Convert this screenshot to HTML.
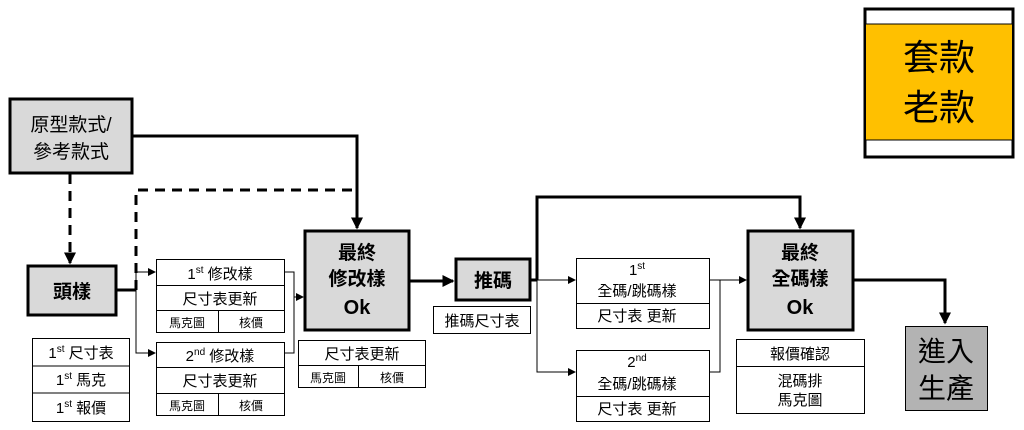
<!DOCTYPE html>
<html><head><meta charset="utf-8"><style>
body{margin:0;background:#fff;width:1024px;height:430px;overflow:hidden}
svg{display:block}
text{font-family:"Liberation Sans","Noto Sans CJK TC",sans-serif;fill:#000}
</style></head><body>
<svg width="1024" height="430" viewBox="0 0 1024 430" xmlns="http://www.w3.org/2000/svg">
<defs>
<marker id="a" markerWidth="4" markerHeight="4" refX="3.5" refY="2" orient="auto" markerUnits="strokeWidth"><path d="M0,0L4,2L0,4z" fill="#000"/></marker>
<marker id="s" markerWidth="8" markerHeight="8" refX="7" refY="4" orient="auto" markerUnits="userSpaceOnUse"><path d="M0,0L8,4L0,8z" fill="#000"/></marker>
</defs>

<!-- connectors -->
<polyline points="133,136 357,136 357,228" fill="none" stroke="#000" stroke-width="3" marker-end="url(#a)"/>
<line x1="70" y1="174" x2="70" y2="263" stroke="#000" stroke-width="3" stroke-dasharray="10,7" marker-end="url(#a)"/>
<polyline points="136,290 136,190 357,190" fill="none" stroke="#000" stroke-width="3" stroke-dasharray="10,7"/>
<line x1="116" y1="290" x2="136" y2="290" stroke="#000" stroke-width="3"/>
<polyline points="155,272 136,272 136,353 155,353" fill="none" stroke="#000" stroke-width="1"/>
<line x1="136" y1="272" x2="155" y2="272" stroke="#000" stroke-width="1" marker-end="url(#s)"/>
<line x1="136" y1="353" x2="155" y2="353" stroke="#000" stroke-width="1" marker-end="url(#s)"/>
<polyline points="284,272 294,272 294,353 284,353" fill="none" stroke="#000" stroke-width="1"/>
<line x1="294" y1="297" x2="303" y2="297" stroke="#000" stroke-width="1" marker-end="url(#s)"/>
<line x1="409" y1="281" x2="453" y2="281" stroke="#000" stroke-width="3" marker-end="url(#a)"/>
<line x1="530" y1="280" x2="537" y2="280" stroke="#000" stroke-width="3"/>
<polyline points="537,280 537,197 800,197 800,228" fill="none" stroke="#000" stroke-width="3" marker-end="url(#a)"/>
<polyline points="537,280 537,372 575,372" fill="none" stroke="#000" stroke-width="1" marker-end="url(#s)"/>
<line x1="537" y1="280" x2="575" y2="280" stroke="#000" stroke-width="1" marker-end="url(#s)"/>
<polyline points="710,280 746,280" fill="none" stroke="#000" stroke-width="1" marker-end="url(#s)"/>
<polyline points="720,280 720,372 710,372" fill="none" stroke="#000" stroke-width="1"/>
<polyline points="853,280 945,280 945,323" fill="none" stroke="#000" stroke-width="3" marker-end="url(#a)"/>

<!-- 原型款式 -->
<rect x="10" y="99" width="122" height="74" fill="#d9d9d9" stroke="#000" stroke-width="3"/>
<text x="71" y="131" font-size="19" text-anchor="middle">原型款式/</text>
<text x="71" y="158" font-size="19" text-anchor="middle">參考款式</text>

<!-- 頭樣 -->
<rect x="28" y="266" width="88" height="49" fill="#d9d9d9" stroke="#000" stroke-width="3"/>
<text x="72" y="298" font-size="19" font-weight="bold" text-anchor="middle">頭樣</text>

<!-- left list -->
<g stroke="#000" stroke-width="1" fill="#fff">
<rect x="32.5" y="338.5" width="97" height="83"/>
<line x1="32" y1="366" x2="130" y2="366"/><line x1="32" y1="393" x2="130" y2="393"/>
</g>
<text x="81" y="358" font-size="15" text-anchor="middle">1<tspan font-size="10" dy="-6">st</tspan><tspan dy="6"> 尺寸表</tspan></text>
<text x="81" y="385" font-size="15" text-anchor="middle">1<tspan font-size="10" dy="-6">st</tspan><tspan dy="6"> 馬克</tspan></text>
<text x="81" y="413" font-size="15" text-anchor="middle">1<tspan font-size="10" dy="-6">st</tspan><tspan dy="6"> 報價</tspan></text>

<!-- 1st 修改樣 -->
<g stroke="#000" stroke-width="1" fill="#fff">
<rect x="156.5" y="259.5" width="128" height="73"/>
<line x1="156" y1="285.5" x2="285" y2="285.5"/><line x1="156" y1="310.5" x2="285" y2="310.5"/>
<line x1="218.5" y1="310" x2="218.5" y2="333"/>
<rect x="156.5" y="342.5" width="128" height="73"/>
<line x1="156" y1="367.5" x2="285" y2="367.5"/><line x1="156" y1="393.5" x2="285" y2="393.5"/>
<line x1="218.5" y1="393" x2="218.5" y2="416"/>
<rect x="298.5" y="340.5" width="127" height="25"/>
<rect x="298.5" y="365.5" width="127" height="22"/>
<line x1="358.5" y1="365" x2="358.5" y2="388"/>
</g>
<text x="220" y="279" font-size="15" text-anchor="middle">1<tspan font-size="10" dy="-6">st</tspan><tspan dy="6"> 修改樣</tspan></text>
<text x="220" y="304" font-size="15" text-anchor="middle">尺寸表更新</text>
<text x="187" y="327" font-size="12" text-anchor="middle">馬克圖</text>
<text x="251" y="327" font-size="12" text-anchor="middle">核價</text>
<text x="220" y="361" font-size="15" text-anchor="middle">2<tspan font-size="10" dy="-6">nd</tspan><tspan dy="6"> 修改樣</tspan></text>
<text x="220" y="386" font-size="15" text-anchor="middle">尺寸表更新</text>
<text x="187" y="410" font-size="12" text-anchor="middle">馬克圖</text>
<text x="251" y="410" font-size="12" text-anchor="middle">核價</text>
<text x="362" y="359" font-size="15" text-anchor="middle">尺寸表更新</text>
<text x="328" y="382" font-size="12" text-anchor="middle">馬克圖</text>
<text x="392" y="382" font-size="12" text-anchor="middle">核價</text>

<!-- 最終修改樣 -->
<rect x="305" y="231" width="104" height="99" fill="#d9d9d9" stroke="#000" stroke-width="3"/>
<text x="357" y="259" font-size="19" font-weight="bold" text-anchor="middle">最終</text>
<text x="357" y="285" font-size="19" font-weight="bold" text-anchor="middle">修改樣</text>
<text x="357" y="314" font-size="20" font-weight="bold" text-anchor="middle">Ok</text>

<!-- 推碼 -->
<rect x="456" y="259" width="74" height="41" fill="#d9d9d9" stroke="#000" stroke-width="3"/>
<text x="493" y="287" font-size="19" font-weight="bold" text-anchor="middle">推碼</text>
<rect x="433.5" y="306.5" width="97" height="27" fill="#fff" stroke="#000" stroke-width="1"/>
<text x="482" y="326" font-size="15" text-anchor="middle">推碼尺寸表</text>

<!-- 全碼 boxes -->
<g stroke="#000" stroke-width="1" fill="#fff">
<rect x="576.5" y="258.5" width="133" height="70"/>
<line x1="576" y1="303.5" x2="710" y2="303.5"/>
<rect x="576.5" y="350.5" width="133" height="71"/>
<line x1="576" y1="396.5" x2="710" y2="396.5"/>
</g>
<text x="637" y="275" font-size="15" text-anchor="middle">1<tspan font-size="10" dy="-6">st</tspan></text>
<text x="637" y="296" font-size="15" text-anchor="middle">全碼/跳碼樣</text>
<text x="637" y="321" font-size="15" text-anchor="middle">尺寸表 更新</text>
<text x="637" y="367" font-size="15" text-anchor="middle">2<tspan font-size="10" dy="-6">nd</tspan></text>
<text x="637" y="389" font-size="15" text-anchor="middle">全碼/跳碼樣</text>
<text x="637" y="414" font-size="15" text-anchor="middle">尺寸表 更新</text>

<!-- 最終全碼樣 -->
<rect x="748" y="231" width="105" height="99" fill="#d9d9d9" stroke="#000" stroke-width="3"/>
<text x="800" y="259" font-size="19" font-weight="bold" text-anchor="middle">最終</text>
<text x="800" y="285" font-size="19" font-weight="bold" text-anchor="middle">全碼樣</text>
<text x="800" y="314" font-size="20" font-weight="bold" text-anchor="middle">Ok</text>
<g stroke="#000" stroke-width="1" fill="#fff">
<rect x="736.5" y="339.5" width="128" height="74"/>
<line x1="736" y1="366.5" x2="865" y2="366.5"/>
</g>
<text x="800" y="359" font-size="15" text-anchor="middle">報價確認</text>
<text x="800" y="386" font-size="15" text-anchor="middle">混碼排</text>
<text x="800" y="405" font-size="15" text-anchor="middle">馬克圖</text>

<!-- 進入生產 -->
<rect x="905.5" y="326.5" width="82" height="84" fill="#b3b3b3" stroke="#000" stroke-width="1"/>
<text x="946" y="361" font-size="28" text-anchor="middle">進入</text>
<text x="946" y="398" font-size="28" text-anchor="middle">生產</text>

<!-- 套款老款 -->
<rect x="865" y="9" width="148" height="148" fill="#fff" stroke="#000" stroke-width="3"/>
<rect x="866" y="24" width="146" height="116" fill="#ffc000"/>
<line x1="866" y1="24" x2="1012" y2="24" stroke="#000" stroke-width="1"/>
<line x1="866" y1="140" x2="1012" y2="140" stroke="#000" stroke-width="1"/>
<text x="939" y="70" font-size="36" text-anchor="middle">套款</text>
<text x="939" y="120" font-size="36" text-anchor="middle">老款</text>
</svg>
</body></html>
